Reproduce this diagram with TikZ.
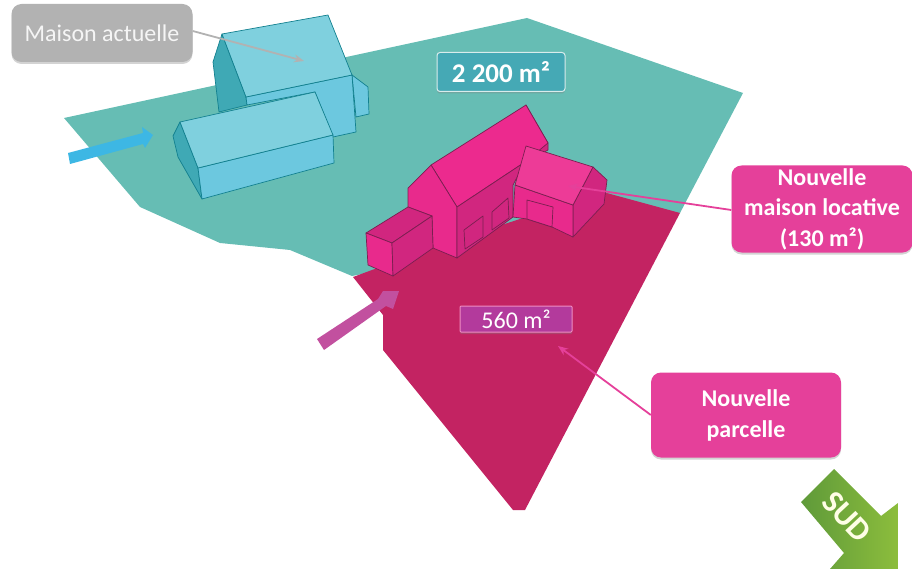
\documentclass[tikz,border=0pt]{standalone}
\usepackage{fontspec}
\setmainfont{Carlito}
\usetikzlibrary{shadows,arrows.meta}
\definecolor{land}{HTML}{66BDB4}
\definecolor{plot}{HTML}{C32362}
\definecolor{roofb}{HTML}{7FD0DE}
\definecolor{wallb}{HTML}{6CC8DF}
\definecolor{gableb}{HTML}{3FA9B5}
\definecolor{edgeb}{HTML}{12808F}
\definecolor{roofp}{HTML}{EC2A8E}
\definecolor{wallp}{HTML}{E82A8C}
\definecolor{sidep}{HTML}{D1267F}
\definecolor{edgep}{HTML}{7A1F50}
\definecolor{lblp}{HTML}{E5409A}
\definecolor{arrb}{HTML}{3DB7E4}
\definecolor{arrp}{HTML}{C2509F}
\definecolor{boxt}{HTML}{45A9B5}
\definecolor{boxp}{HTML}{B33A9C}
\definecolor{boxg}{HTML}{B2B2B2}
\definecolor{sudd}{HTML}{5F9A3A}
\definecolor{sudl}{HTML}{8CBD3C}
\tikzset{
  x=1pt,y=-1pt,
  facee/.style={draw=edgeb,line width=.7pt,line join=round},
  facep/.style={draw=edgep,line width=.7pt,line join=round},
  lbl/.style={rounded corners=10pt,minimum width=#1,align=center,inner sep=0pt,text=white,font=\fontsize{24}{31}\selectfont\bfseries,fill=lblp,drop shadow={shadow xshift=0pt,shadow yshift=-2pt,opacity=.35}},
  lead/.style={-{Stealth[length=10pt,width=8pt]},line width=1.8pt,draw=lblp}
}
\begin{document}
\begin{tikzpicture}
\useasboundingbox (0,0) rectangle (912,569);
% ground
\fill[land] (64,118) -- (527,18) -- (743,93) -- (680,213) -- (352,276) -- (290,250) -- (220,243) -- (140,207) -- cycle;
\fill[plot] (353,277) -- (440,245) -- (603,192) -- (680,213) -- (525,510) -- (513,510) -- (383,350) -- (383,315) -- cycle;
% back house
\fill[wallb,facee] (352,75) -- (368,87) -- (369,114) -- (356,117) -- cycle;
\fill[gableb,facee] (222,34) -- (213,62) -- (219,112) -- (247,105) -- (246,97) -- cycle;
\fill[wallb,facee] (246,97) -- (352,75) -- (356,132) -- (333,137) -- (315,92) -- (247,105) -- cycle;
\fill[roofb,facee] (222,34) -- (328,15) -- (352,75) -- (246,97) -- cycle;
% front house
\fill[gableb,facee] (180,122) -- (173,136) -- (178,157) -- (202,199) -- (198,168) -- cycle;
\fill[wallb,facee] (198,168) -- (333,135) -- (334,163) -- (202,199) -- cycle;
\fill[roofb,facee] (180,122) -- (315,92) -- (333,135) -- (198,168) -- cycle;
% pink main house
\fill[sidep,facep] (526,105) -- (548,143) -- (548,150) -- (525,162) -- cycle;
\fill[roofp,facep] (431,165) -- (526,105) -- (548,143) -- (525,162) -- (457,207) -- cycle;
\fill[wallp,facep] (431,165) -- (408,188) -- (408,207) -- (432,216) -- (433,248) -- (457,258) -- (457,207) -- cycle;
\fill[sidep,facep] (457,207) -- (525,162) -- (513,185) -- (513,217) -- (457,258) -- cycle;
\fill[sidep,facep] (464,230) -- (483,216) -- (483,237) -- (465,249) -- cycle;
\fill[sidep,facep] (492,212) -- (508,198) -- (509,218) -- (492,230) -- cycle;
% left box
\fill[sidep,facep] (366,233) -- (408,207) -- (432,216) -- (392,243) -- cycle;
\fill[wallp,facep] (366,233) -- (392,243) -- (393,276) -- (368,265) -- cycle;
\fill[sidep,facep] (392,243) -- (432,216) -- (433,248) -- (393,276) -- cycle;
% small pink house
\fill[sidep,facep] (593,167) -- (607,180) -- (604,204) -- (573,237) -- (573,205) -- cycle;
\fill[wallp,facep] (515,185) -- (573,205) -- (573,237) -- (552,227) -- (527,219) -- (513,217) -- cycle;
\fill[wallp,facep] (527,200) -- (553,207) -- (552,227) -- (527,219) -- cycle;
\fill[roofp!92!white,facep] (526,146) -- (593,167) -- (573,205) -- (515,185) -- cycle;
% big arrows
\fill[arrb] (68,153) -- (143,133) -- (142,127) -- (153,135) -- (145,148) -- (143,144) -- (70,164) -- cycle;
\fill[arrp] (317,339) -- (378,299) -- (383,291) -- (399,291) -- (393,309) -- (386,306) -- (324,350) -- cycle;
% labels
\node[lbl=181pt,minimum height=58pt,fill=boxg,text=white!92!gray,font=\fontsize{24}{29}\selectfont] (m) at (102,33) {Maison actuelle};
\node[lbl=128pt,minimum height=39pt,fill=boxt,draw=white!85!teal,line width=1pt,rounded corners=3pt,font=\fontsize{27}{32}\selectfont\bfseries] (a) at (501,72) {2 200 m²};
\node[lbl=112pt,minimum height=26pt,fill=boxp,draw=lblp!60!white,line width=1pt,rounded corners=1pt,font=\fontsize{24}{26}\selectfont] (b) at (516,319) {560 m²};
\node[lbl=181pt,minimum height=87pt] (n) at (822,209) {\raisebox{-1pt}{Nouvelle}\\maison locative\\(130 m²)};
\node[lbl=190pt,minimum height=85pt] (p) at (746,415) {Nouvelle\\parcelle};
% leaders
\coordinate (c1) at (304,61);
\coordinate (c2) at (568,186);
\coordinate (c3) at (558,346);
\draw[lead,draw=boxg] (m.east) ++(0,-2) -- (c1);
\draw[lead] (n.west) ++(0,1) -- (c2);
\draw[lead] (p.west) -- (c3);
% south arrow
\shade[left color=sudd,right color=sudl] (834,469) -- (881,516) -- (898,503) -- (898,569) -- (830,569) -- (844,553) -- (801,502) -- cycle;
\node[rotate=-47,text=white!90!yellow,font=\fontsize{32}{32}\selectfont\bfseries] (s) at (847,517) {SUD};
\end{tikzpicture}
\end{document}
